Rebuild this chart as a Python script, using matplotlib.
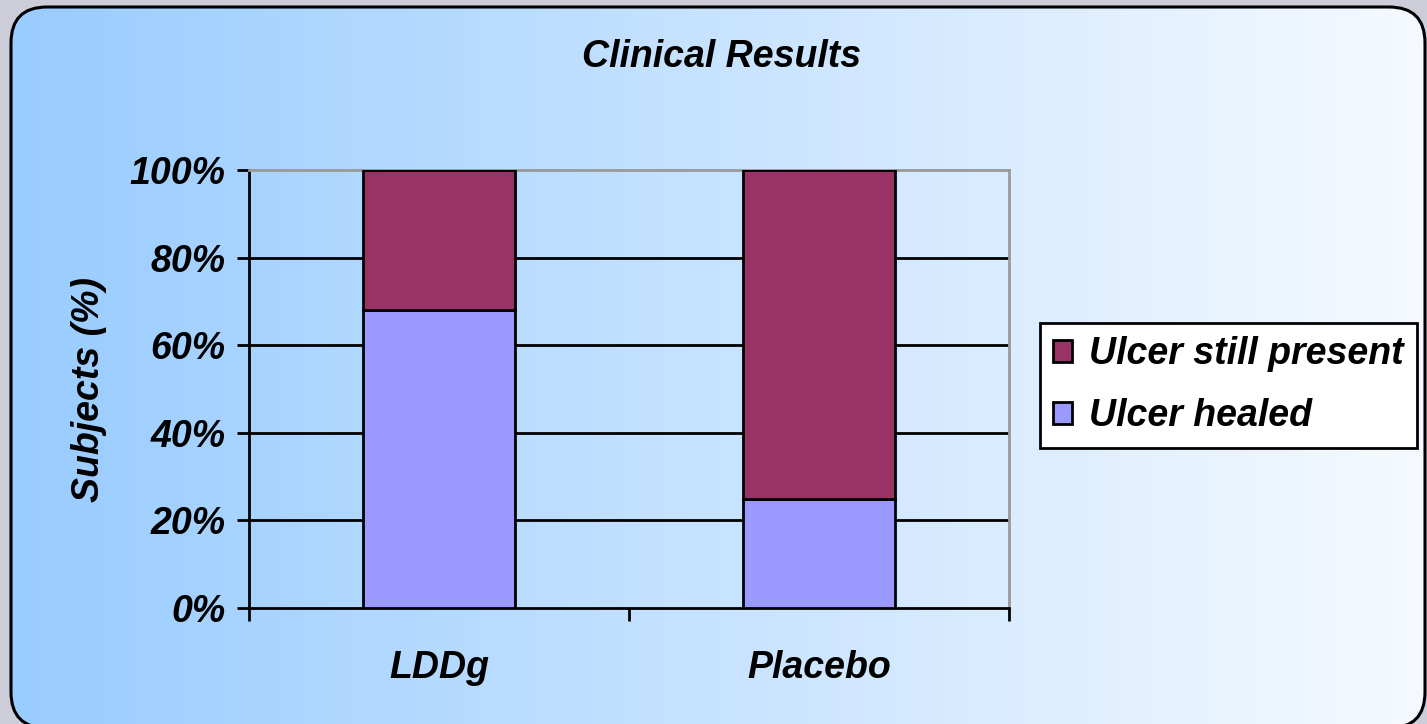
import matplotlib.pyplot as plt
import numpy as np
from matplotlib.patches import FancyBboxPatch
from matplotlib.colors import LinearSegmentedColormap

groups = ["LDDg", "Placebo"]
healed = [68, 25]
still_present = [32, 75]
yticks = [0, 20, 40, 60, 80, 100]

plt.rcParams['font.family'] = ['Liberation Sans', 'DejaVu Sans']
plt.rcParams['font.weight'] = 'bold'
plt.rcParams['font.style'] = 'italic'
plt.rcParams['axes.labelweight'] = 'bold'
fs = 27

fig = plt.figure(figsize=(14.27, 7.24), dpi=100)
fig.patch.set_facecolor('#cdcdd9')

# fond: rectangle arrondi avec dégradé
bg = fig.add_axes([0, 0, 1, 1])
bg.set_xlim(0, 1427)
bg.set_ylim(0, 724)
bg.axis('off')
cmap = LinearSegmentedColormap.from_list('bleu', ['#99ccff', '#f6faff'])
grad = np.linspace(0, 1, 256).reshape(1, -1)
im = bg.imshow(grad, cmap=cmap, extent=[11, 1425, -4, 717], aspect='auto')
box = FancyBboxPatch((11, -4), 1414, 721, boxstyle='round,pad=0,rounding_size=36',
                     facecolor='none', edgecolor='black', linewidth=2.2)
bg.add_patch(box)
im.set_clip_path(box)

ax = fig.add_axes([249/1427, 1 - 608/724, 760/1427, 438/724])
ax.patch.set_alpha(0)
x = np.arange(len(groups))
w = 0.4
lw = 2
for y in yticks[1:-1]:
    ax.axhline(y, color='black', lw=lw, zorder=1)
ax.bar(x, healed, w, color='#9999ff', edgecolor='black', lw=lw, zorder=3, label='Ulcer healed')
ax.bar(x, still_present, w, bottom=healed, color='#993366', edgecolor='black', lw=lw,
       zorder=3, label='Ulcer still present')

ax.set_xlim(-0.5, 1.5)
ax.set_ylim(0, 100)
ax.set_yticks(yticks)
ax.set_yticklabels([f"{v}%" for v in yticks], fontsize=fs)
ax.set_xticks(x)
ax.set_xticklabels(groups, fontsize=fs)
ax.set_xticks([-0.5, 0.5, 1.5], minor=True)
ax.tick_params(axis='x', which='major', length=0, pad=30)
ax.tick_params(axis='x', which='minor', length=9, width=lw, direction='out')
ax.tick_params(axis='y', length=9, width=lw, direction='out', pad=8)
for s in ['left', 'bottom']:
    ax.spines[s].set_linewidth(lw)
for s in ['top', 'right']:
    ax.spines[s].set_color('#999999')
    ax.spines[s].set_linewidth(lw)
ax.set_ylabel("Subjects (%)", fontsize=fs, labelpad=16)

fig.text(0.506, 1 - 57/724, "Clinical Results", fontsize=fs, ha='center', va='center')

h, l = ax.get_legend_handles_labels()
leg = fig.legend(h[::-1], l[::-1], loc='upper left', bbox_to_anchor=(1040/1427, 1 - 323/724),
                 fontsize=fs, frameon=True, fancybox=False, framealpha=1, edgecolor='black',
                 handlelength=0.5, handleheight=0.5, handletextpad=0.45, borderpad=0.35,
                 labelspacing=0.7, borderaxespad=0)
leg.get_frame().set_linewidth(lw)

fig.savefig("out.png", dpi=100, facecolor=fig.get_facecolor())
